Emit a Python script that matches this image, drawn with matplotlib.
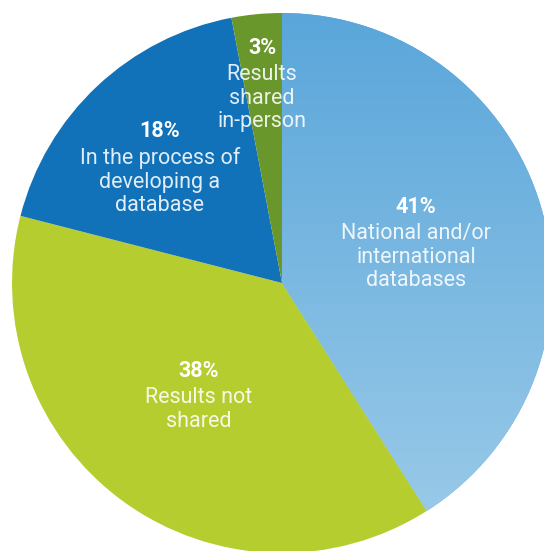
import numpy as np
import matplotlib.pyplot as plt
from matplotlib.colors import LinearSegmentedColormap

# Share of respondents by how results are shared
shares = [41, 38, 18, 3]
labels = ["National and/or\ninternational\ndatabases",
          "Results not\nshared",
          "In the process of\ndeveloping a\ndatabase",
          "Results\nshared\nin-person"]
colors = ["#5ea9dc", "#b6cd2f", "#1171b9", "#6a972b"]

W, H = 544, 551
fig = plt.figure(figsize=(W / 100, H / 100), dpi=100)
ax = fig.add_axes([0, 0, 1, 1])

cx, cy, r = 282, H - 283, 270
wedges, _ = ax.pie(shares, colors=colors, startangle=90, counterclock=False,
                   center=(cx, cy), radius=r, frame=True,
                   wedgeprops=dict(linewidth=0))
ax.set_xlim(0, W)
ax.set_ylim(0, H)
ax.set_aspect("equal")
ax.axis("off")

# vertical gradient on the first slice
grad = LinearSegmentedColormap.from_list("blue", ["#5aa6da", "#9dcce9"])
img = ax.imshow(np.linspace(0, 1, 256).reshape(-1, 1), cmap=grad,
                extent=(cx, cx + r, cy - r, cy + r), origin="upper",
                aspect="auto", zorder=wedges[0].get_zorder() + 0.1)
img.set_clip_path(wedges[0])

font = "Roboto"
label_pos = [(416, 207), (199, 371), (160, 131), (262, 48)]
for (x, y), pct, lab in zip(label_pos, shares, labels):
    ax.text(x, H - y, f"{pct}%", ha="center", va="center", color="white",
            fontsize=15.5, fontweight="bold", family=font, zorder=5)
    ax.text(x, H - y - 16, lab, ha="center", va="top", color="white",
            alpha=0.88, fontsize=15.5, fontweight="normal", family=font,
            linespacing=1.17, zorder=5)

fig.savefig("out.png", dpi=100)
